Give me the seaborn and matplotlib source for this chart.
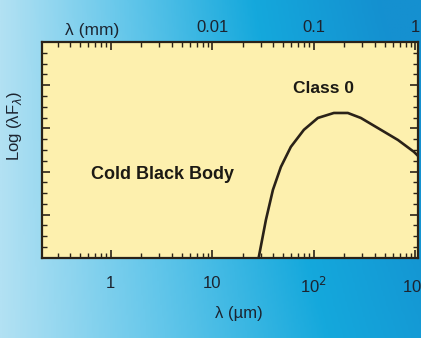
import numpy as np
import pandas as pd
import matplotlib
matplotlib.use("Agg")
import matplotlib.pyplot as plt
import seaborn as sns
from matplotlib.colors import LinearSegmentedColormap
from matplotlib.ticker import LogLocator, NullFormatter, FixedLocator, MultipleLocator

# Data (arbitrary log(lambda F) units)
wavelength_um = [27.0, 28.7, 33.7, 39.5, 47.3, 59.3, 79.7, 109.5, 157.4, 216.0, 290.0, 457.0, 673.0, 967.0, 1100.0]
log_lam_f = [-0.6, 0.05, 1.76, 3.15, 4.21, 5.14, 5.93, 6.48, 6.71, 6.71, 6.48, 5.93, 5.46, 4.91, 4.65]
x_ticks = [1, 10, 100, 1000]
x_tick_labels = ["1", "10", "10$^2$", "10$^3$"]
top_ticks_mm = [0.01, 0.1, 1]
top_tick_labels = ["0.01", "0.1", "1"]

sns.set_style("ticks")
plt.rcParams['font.family'] = ['Liberation Sans', 'DejaVu Sans']

fig = plt.figure(figsize=(4.21, 3.38), dpi=100)

# background gradient
bg = fig.add_axes([0, 0, 1, 1], zorder=-10)
gx = np.linspace(0, 1, 256)[None, :]
gy = np.linspace(0, 1, 128)[:, None]
img = np.clip(gx * (0.85 + 0.25 * gy), 0, 1)
cmap = LinearSegmentedColormap.from_list("bg", ["#b2e1f3", "#62c6ea", "#14a8dc", "#1590d0"])
bg.imshow(img, cmap=cmap, aspect="auto", extent=[0, 1, 0, 1], origin="lower")
bg.set_axis_off()

ax = fig.add_axes([0.0998, 0.237, 0.892, 0.639])
ax.set_facecolor("#fdf0ae")

df = pd.DataFrame({"lam": wavelength_um, "lf": log_lam_f})
sns.lineplot(data=df, x="lam", y="lf", ax=ax, color="#2a2218", linewidth=1.9)

ax.set_xscale("log")
ax.set_xlim(0.21, 1050)
ax.set_ylim(0, 10)

ax.xaxis.set_major_locator(FixedLocator(x_ticks))
ax.set_xticklabels(x_tick_labels)
ax.xaxis.set_minor_locator(LogLocator(base=10, subs=np.arange(2, 10)))
ax.xaxis.set_minor_formatter(NullFormatter())
ax.yaxis.set_major_locator(MultipleLocator(2))
ax.yaxis.set_minor_locator(MultipleLocator(0.5))
ax.set_yticklabels([])

ax.tick_params(which="both", direction="in", top=True, right=True, color="#2a2218")
ax.tick_params(which="major", length=6, width=1.2, labelsize=12, labelcolor="#1c2430", pad=13)
ax.tick_params(which="minor", length=3.5, width=1.0)
for s in ax.spines.values():
    s.set_linewidth(1.6)
    s.set_color("#2a2218")

ax.set_xlabel("λ (µm)", fontsize=12, color="#1c2430")
ax.xaxis.set_label_coords(0.523, -0.225)
ax.set_ylabel("Log (λF$_\\lambda$)", fontsize=12, color="#1c2430")
ax.yaxis.set_label_coords(-0.072, 0.61)
ax.yaxis.label.set_va("center")

sec = ax.secondary_xaxis("top", functions=(lambda x: x / 1000.0, lambda x: x * 1000.0))
sec.xaxis.set_major_locator(FixedLocator(top_ticks_mm))
sec.set_xticklabels(top_tick_labels)
sec.xaxis.set_minor_locator(FixedLocator([]))
sec.tick_params(which="both", length=0, labelsize=12, labelcolor="#1c2430", pad=5)
for s in sec.spines.values():
    s.set_visible(False)

fig.text(92 / 421, 1 - 30 / 338, "λ (mm)", ha="center", va="center", fontsize=12.5, color="#1c2430")

ax.text(123, 7.82, "Class 0", ha="center", va="center", fontsize=12.5, color="#1c1a14", fontweight="bold")
ax.text(3.25, 3.85, "Cold Black Body", ha="center", va="center", fontsize=13, color="#1c1a14", fontweight="bold")

fig.savefig("out.png", dpi=100)
